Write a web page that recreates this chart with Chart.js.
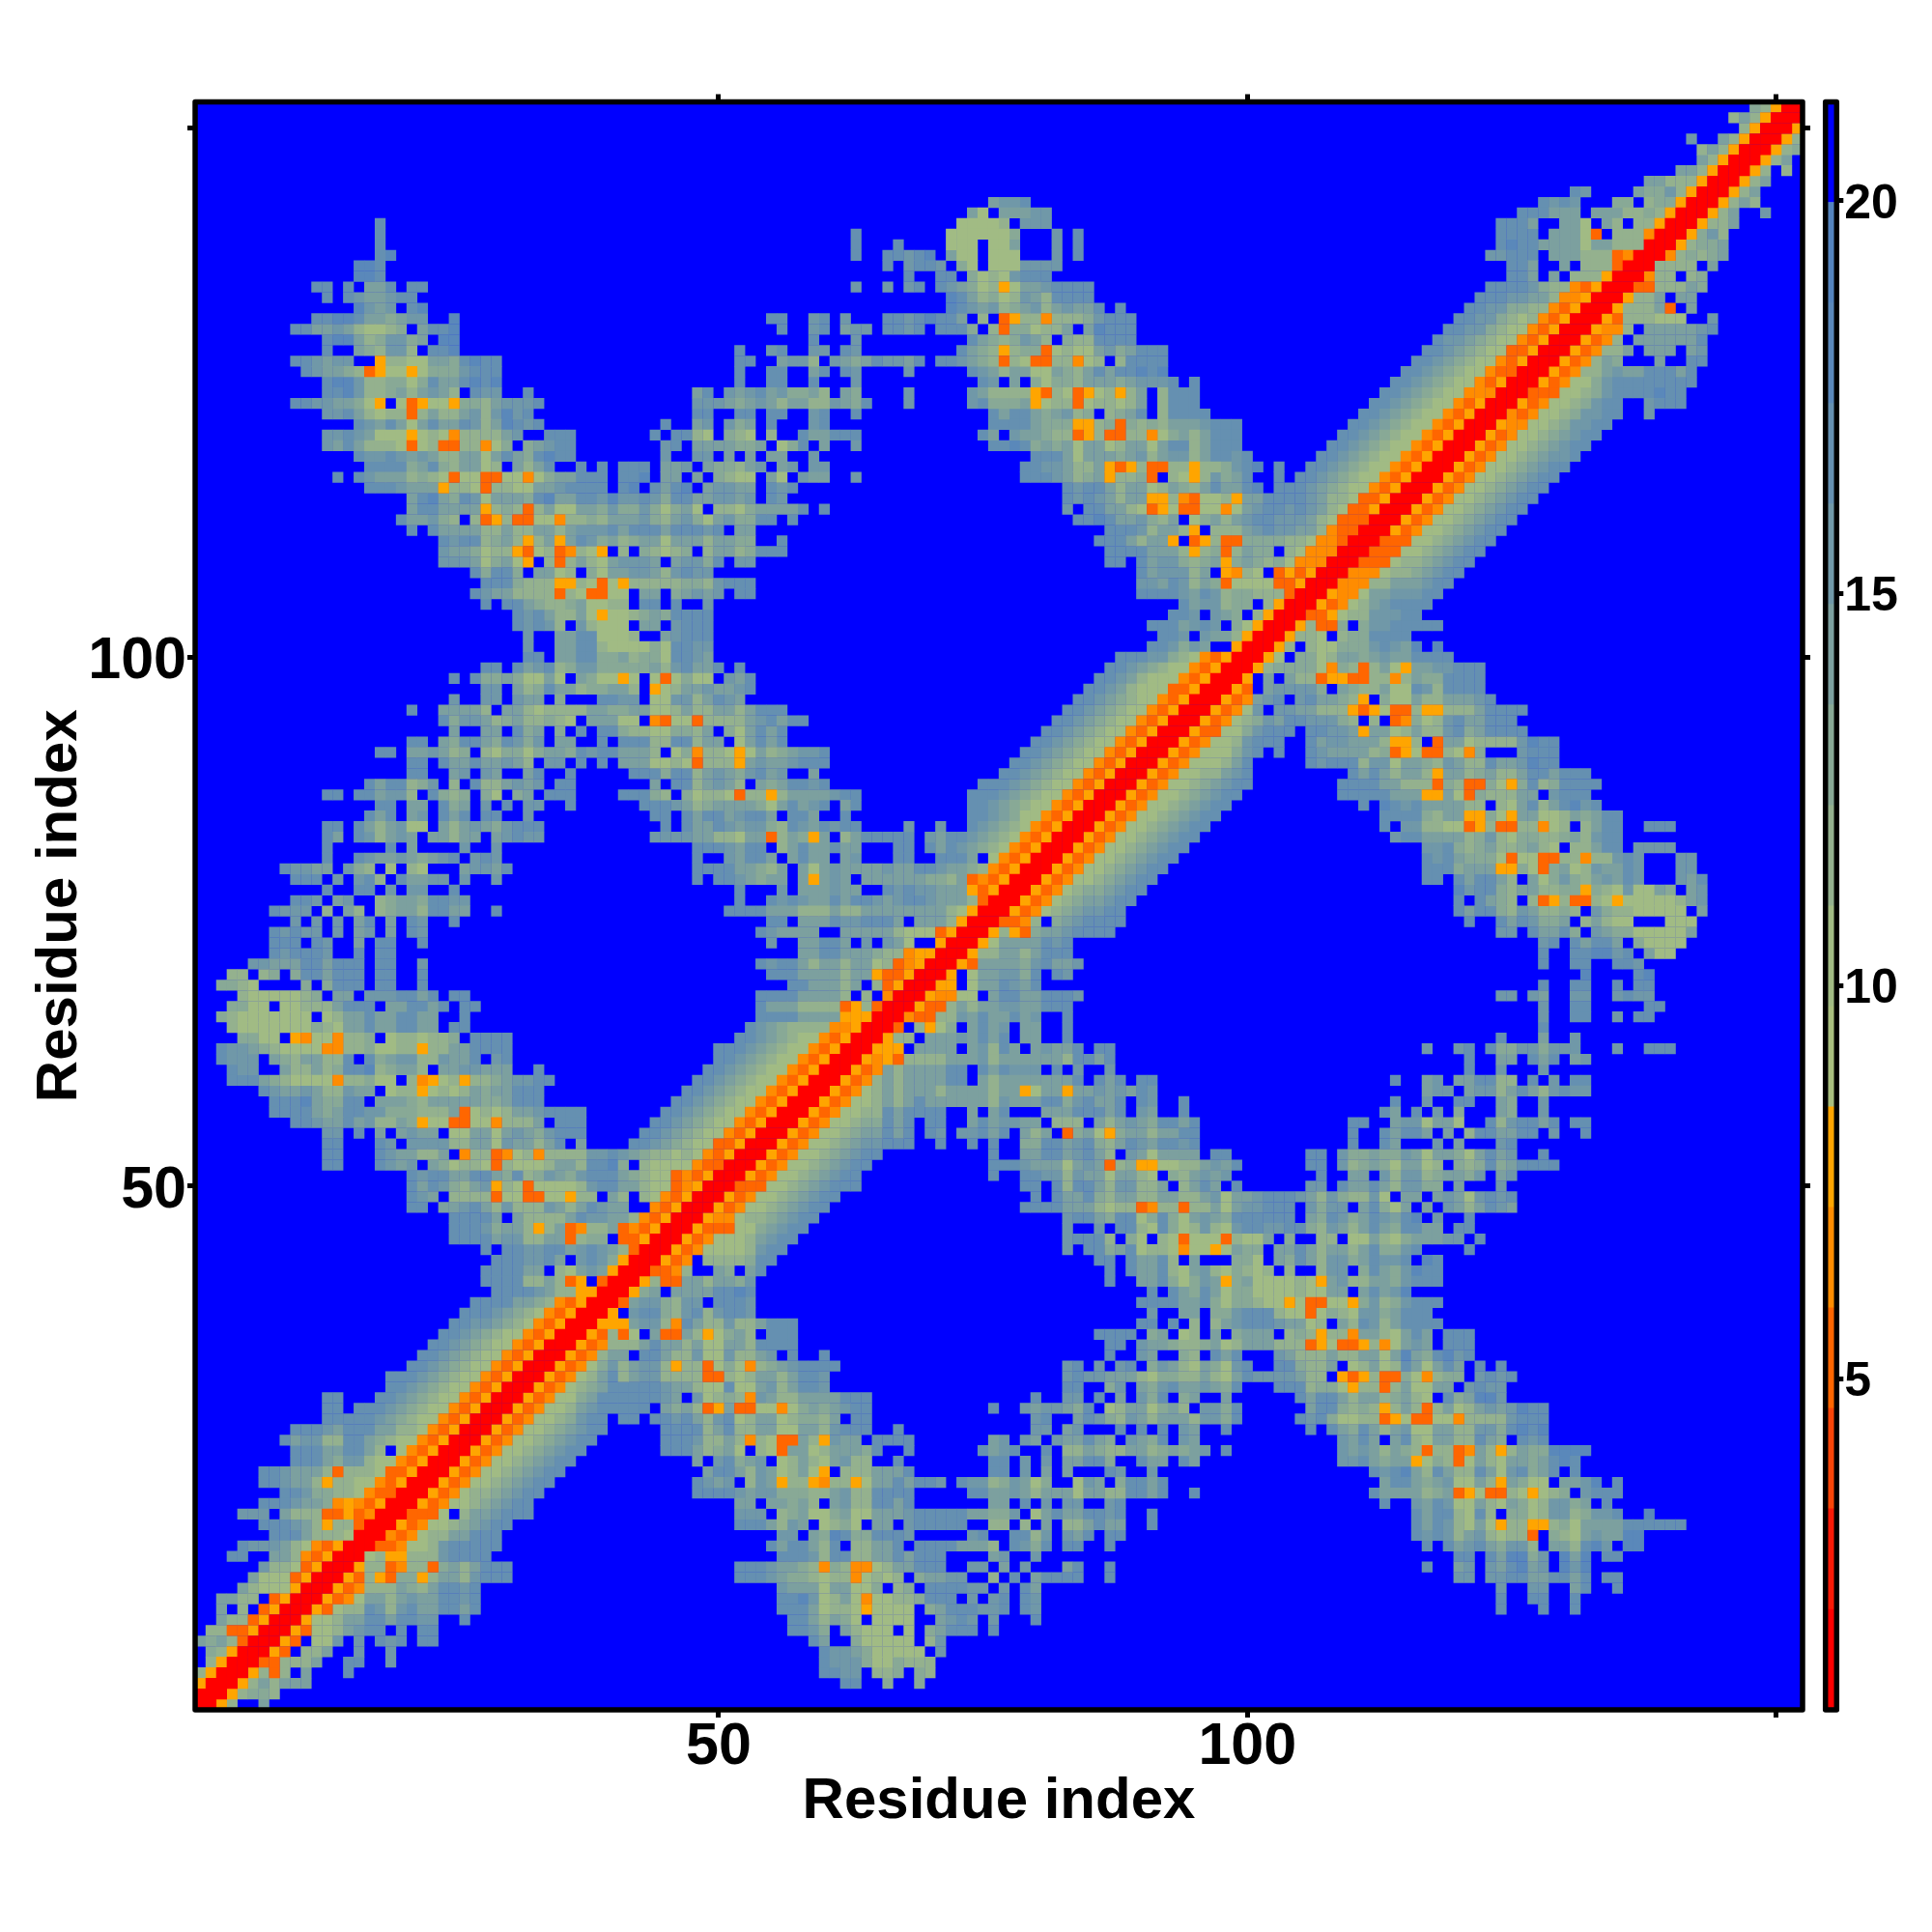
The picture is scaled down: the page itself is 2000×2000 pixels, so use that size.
<!DOCTYPE html>
<html>
<head>
<meta charset="utf-8">
<title>Residue distance map</title>
<script src="https://cdn.jsdelivr.net/npm/chart.js@4"></script>
<style>
  html, body { margin: 0; padding: 0; background: #fff; }
  canvas { position: absolute; top: 0; }
  #map { left: 0; }
  #bar { left: 1868px; }
</style>
</head>
<body>
<canvas id="map" width="2000" height="2000"></canvas>
<canvas id="bar" width="132" height="2000"></canvas>
<script>
const residueCount = 152;
const xTickValues = [50, 100, 150];
const xTickLabels = ['50', '100', ''];
const yTickValues = [50, 100, 150];
const yTickLabels = ['50', '100', ''];
const barTickValues = [5, 10, 15, 20];
const axisTitle = 'Residue index';

// colour key, one entry per level, red = close, blue = far
const levelBreaks = [0.78, 2.06, 3.34, 4.62, 5.9, 7.18, 8.46, 9.74, 11.02, 12.3, 13.58, 14.86, 16.14, 17.42, 18.7, 19.98, 21.26];
const levelColors = ['#FF0000', '#F91A06', '#F94508', '#FF6600', '#FF8C00', '#FFA500',
  '#A8BE7E', '#A1BB84', '#94B18E', '#88A996', '#7CA09F', '#7098A8', '#6590B1', '#5A88BA', '#5484BE', '#0000FF'];

// the map is symmetric: only the part above the diagonal is kept
// "row|col:levels col:levels", one hex digit per cell, "." = far (blue)
const rowSpans = [
"152|148:98500",
"151|146:8a8500",
"150|147:8500",
"149|142:b 145:a8500",
"148|143:8a8500",
"147|143:a8500",
"146|141:aa8500",
"145|138:aa888500",
"144|131:cb 137:a99b8500",
"143|76:abbc 128:cbcb 135:99 138:899500",
"142|74:a7 77:aaabb 126:cccaaa 133:aaa8898500",
"141|18:c 73:77778 79:bbb 124:ccca 130:aa7 134:a8 137:88500",
"140|18:c 63:c 72:7777779 82:b 84:c 124:cccc 129:aaa73.888400",
"139|18:c 63:c 67:c 72:777 76:77a 82:b 84:c 124:cdccaaaa7aa88800",
"138|18:cd 63:c 66:ccbcd 72:a77 76:777 82:b 84:c 123:bbccc.aaa8883400",
"137|16:ddc 66:c 68:bccb 73:97 76:777bbb 82:b 125:cca..a.888300",
"136|16:ddc 68:c 71:cc 74:9787bccc 125:cca.a.888500",
"135|12:cc 15:c 17:aac 21:cc 63:b 66:b 68:bc 71:cba97857aabcccc 123:ccccb98843500",
"134|13:c 15:cbaabcc 72:dca8978ba8cccc 122:cccbbaa844500",
"133|16:dbab 21:cd 72:dcbab89ab8abaac 88:c 121:ccbb998843500",
"132|12:ccddcaa9abb 25:d 55:cc 59:bc 62:b 66:ccbcdcca.8.358848889bccc 120:ccbb987843500",
"131|10:ccaaba87789.accd 56:c 59:bc 62:abb 66:ccbc 71:ccc9 76:8399788a.adccc 119:ccbb987743500",
"130|13:cdda89bb9a.dd 59:c 63:b 74:ca989ba8.988cccc 118:cbba987743500",
"129|13:c 16:a98bb8.ccd 52:c 55:bc 59:bb 62:cb 73:ca98589937877ab9accc 117:ccba987733500",
"128|10:ccbabb..58877aa9cdcc 52:cc 56:abb8.ba9acbbac 71:ccba983873388478.8cccc 116:ccba987743500",
"127|11:cbaa98357757999bccc 52:c 55:cc 59:ac 62:cb 68:b 74:cba8aa77a98acaccdcd 115:ccba987743300",
"126|13:cddb889979caacdcd 52:c 55:cc 59:c 63:b 75:cb.a.97998aaa9abbbc 95:c 114:ccba987743500",
"125|13:ccdb889a8aba8.cbb 32:c 48:ac.babcab99a8.a9 68:b 74:ba88885387357858a.8cc 95:c 113:ccba987744400",
"124|10:ccbbaa975.735775998abbbc 48:bbba9aba8aa88ba9c 68:b 74:bc999a5788378878a.8cc 95:c 112:ccba987743500",
"123|13:bbca878838a88ab8bdbc 48:cc 52:cc 55:cc 59:bc 63:c 76:cacca9ab89.89ac.8cc 95:cc 111:ccba987743500",
"122|16:cbaca7acaacb8adcbc 45:c 48:ab.b9a 55:c 59:bc 76:cccca999558939898aa 95:abccc 110:ccba987743500",
"121|13:bbcba777578748888ab 34:ccc 44:c 46:cc 48:87.987.8 58:caaccc 75:ca.baa9883583388479a 95:8accc 109:ccba987743500",
"120|13:baca88873783388479.9abcc 45:bc 48:aaaa99a.79c.a 63:b 76:ccdc9a9a7aa78aa7acc 95:8accc 108:ccba987743500",
"119|16:cbbcbaba88aa7aca9cdcc 45:b 48:bb.a.a.aa 59:b 80:ccca7aaa9ab8abb 95:8accbc 107:ccba987743500",
"118|17:cccc9ac98aa78.a8ac 37:c 39:c 41:ccc 45:aab 49:a998ab.ab.bb 79:ccbba88a53583388 95:5889bcd 103:c 106:ccba987743500",
"117|14:c 16:cbaaa89873773377479aaccc 41:ccd 45:aa 48:a.9877.a7.baa 63:b 79:cccba89a58893.87 95:58b9ac 103:c 105:ccba987743500",
"116|17:cccbaaa588738877aabcccc 41:cd 44:cacd 49:abbaa.cbc 83:cbcca8aa78a9 95:8acaacd.cccba987743500",
"115|21:acda9cb7aaa9cdaaccbdbbcb9cc 48:aabbab.cb 83:cbcba8aa5584 95:37785aaccccba88733500",
"114|21:accaaaa589838a77aa9b99b979a 48:7.8879aaaac 60:c 83:b.ccaa873573 95:37747abccbcba8733500",
"113|20:caab98.8358337748898aaab98ab 48:97ab99cc.c 84:ccdcaab98a. 95:79a8abccbbba8733300",
"112|21:c.caaaa88a88aa8abbbcacccacc 48:cbc.aa 87:cccb8aa8 95:5.888abcbbaa843300",
"111|24:cbcc89a858a5acb9a89aa7aa 48:a8aa99 56:c 86:ccca8aa5 95:35833999988744300",
"110|24:baa9788537834875.8.98789 49:8aa89ccc 87:ccccaaa8 95:58938a99.8744400",
"109|24:bbba79a75.838a87abbba.ab 48:b9c.bb 87:cc.cabb9 95:89a59a989744400",
"108|27:c9cc9.aa78.97aabba8bc 48:bb 90:cabbb 95:8a.5487.353500",
"107|28:ccc98885587375888889 48:98bccc 90:bbacb 95:8a93777733500",
"106|27:cbaa88883873377.aa.9a 48:bab.cc 90:ccccb 95:acb899888300",
"105|28:c.cca9889a7788.cc.c 49:b 94:c 95:abb899.8500",
"104|31:cbca88a757789a9cc 48:cc 93:cc 95:b.ba9.8500",
"103|31:cbcb8.b8777.aa.bc 48:cc 91:ccca 95:bcb.97500",
"102|32:b..aacc7778..abc 48:cc 92:ccb 96:baa8500",
"101|32:b..aacc8777797cc 48:bb 91:ccb9 95:ba..500",
"100|32:cc.aacc99a8997cc 48:ba 88:cccbb98 95:743500",
"99|28:cc.cabc89bb99999a8bc 48:aac 52:c 87:ccba9877 95:43500",
"98|25:c.c99a977a7.a97757.7379 48:77.bac 86:ccba87774 95:3500",
"97|28:bb.a89caa899aa8.578a 48:abaabc 85:ccba877733 95:500",
"96|25:b 28:bb 31:baa 35:9 39:ccbb 44:77bb 48:8acba 84:ccba987743500",
"95|21:c 24:aaaa8.aa878888aa99aa778a 48:88aa8accc 83:ccba987743500",
"94|24:c9bba89a88987.aaa77.4377 48:38888abcacc 82:ccba987743500",
"93|25:a..aa.c9a.9.c.cc9887799 48:8a.97acac 81:ccba987743500",
"92|21:cc.a9cca9cb9b.aa..c.ccc88cc 48:8aa.7acac 80:ccba987743500",
"91|18:cc 21:aaba89.879979aa9cbccaaa8.79 48:488757a89abbc 79:ccba987743500",
"90|21:cc.caacaaba8.bb.c.c.aaa7787 48:38885abaabccc 78:ccba987743500",
"89|21:cc..ab.ba..ac..c 42:ccc9cc 48:8aba9bcab..a 77:ccba987743500",
"88|17:cacc89b.8.c88abab.cc 44:a 46:cc 48:8aba8.a9accbc 75:cccba987743500",
"87|13:cc 16:ccabb8.c989.97.9a.ccc 41:ccc98.9 48:788738858aaaabcc 74:cccba987743500",
"86|18:cc.aa.c9a.b.c.bb 36:c 43:cccba 48:89aaaa97acabc.ac 74:ccba987743500",
"85|17:cac.ab.cac.cc..b 44:cc.c 48:accabcca.cca..c 74:ccba97743500",
"84|13:cc 16:ca8ab77.a8aba9bccc 45:c 47:c 48:aacbabb98cbacbcc 68:b 71:b 74:cba98743500",
"83|13:ca 16:cb8aba.aa8aa.abcbb 44:bbbb 48:aa887aa38a95a.8accccc.baccba98743500",
"82|13:c 19:c.a 26:b 29:b 48:cccbacc.8acaacaa...cc.cacba98743500",
"81|13:c 16:cbaaba9abc.b 28:cb 48:c..bacca.acaa.ab...cc..ccca.743500",
"80|9:cbbaa.b98.7.87...abbac 48:ccccaa98a.a7abaaaabaaccbaa9843500",
"79|10:ccc.b.bc8.caabb.b 29:b 48:c.ccba9aa.a5aba.aaaaaa998a343500",
"78|13:c..cc.b.bb..c 52:c 56:b.aaabaa..cbcbbaaa53500",
"77|10:ccb.ab..89aa9ccbb 52:c 55:cbcbaacaccbabccbaaa8300",
"76|8:cbbb.8.a8.89aa8ccaa 29:c 51:ccccaaa888a88aaaaaaaa87500",
"75|10:b.b.b.ac.a.cb 25:c 55:cc.aaacbbccca.aaa8500",
"74|8:cbcbb.b.ab.a.cb 54:cbaaaa..aaaaa87773500",
"73|8:ccc.cb..a.cc 22:c 55:b..aacca.b.ba7..500",
"72|8:cbcccb..c.cc 58:aaccaaa98845500",
"71|6:bbaaaccaccc.cc 22:b 54:cbcca8aa8aa7834500",
"70|4:88.89.9ccaccc.cc 22:c 55:cccaaaa8aa533500",
"69|3:9987....9.9ccc.cc 22:c 57:ccaaa8a.83500",
"68|5:87777789.aa.bbbccac.cc 54:ccccaaaa8.8.400",
"67|4:9977.77888accc.aaccac.cc 54:caaa8888358300",
"66|3:987777777.78aacaaccaa 26:c 54:ccccaaaa55500",
"65|4:87777777987aacaaccaa.cc 53:cba9888844500",
"64|5:9977.54774889.7887889.cccc 52:ccba987743500",
"63|3:cbba987777448897788588aacccc 50:cccba987743500",
"62|3:cbbb.a98aa88c.c9abb88baac.bc 50:ccba987743500",
"61|4:cbb..a88a89ccd89aa8.aabbaaa 33:c 49:ccba987743500",
"60|4:ccca987777488977.845785889abbcc 48:ccba987743500",
"59|7:cbaaba88baa.78857878a9aaccc 47:ccba987743500",
"58|8:cccda99cc.aaa98aaaaa99accc 46:ccba987743500",
"57|8:cccca9accbb999888a37878aabcccc 45:ccba987743500",
"56|10:ccbaacab88a957733774888a.ccc 44:ccba987743500",
"55|13:bb.c.a.abaa.77aa7aba9bccc 43:ccba987743500",
"54|13:cc 18:cb.bbbb88aa7baa8ac.a 42:ccba987733500",
"53|13:cc 18:cbaa88a.488347848888bbcba98878 48:743500",
"52|13:cc 18:cbab.a97887387778aa8ccd9.87777 48:43300",
"51|21:cbccaacca9c89ba9bccca987734 48:3500",
"50|21:cacb98ab587377778bccaa87734 48:500",
"49|21:cba.88883773377588.a8.8743500",
"48|21:cc.aabca8b888ba8acbaa..43500",
"47|25:cccca.a8888acbbaa843500",
"46|25:cccb9aa858a3488a343500",
"45|25:ccccabb88aa3899.33500",
"44|28:c.ccbbccabcba8300",
"43|29:cccbbca.bcb9500",
"42|28:ccccaa.87aba500",
"41|28:cccc88a835.300",
"40|29:ccccba885500",
"39|27:ccccaa9843500",
"38|26:cccba98743500",
"37|25:ccbba98743500",
"36|24:ccba987743500",
"35|23:ccba987743500",
"34|22:ccba987743500",
"33|21:ccba987743500",
"32|19:cccba987743500",
"31|19:ccba987743500",
"30|13:cc 18:ccba987743500",
"29|13:cc 16:cccba987743500",
"28|13:cccccba987743500",
"27|10:cccbacccaa88743500",
"26|9:cabb88cca987743500",
"25|10:cccaacca8.743500",
"24|10:ccca9bb87743500",
"23|7:ccbaaa83888733500",
"22|7:ccbaa85887743500",
"21|9:ccb9988743300",
"20|7:cccbaa94543500",
"19|5:bbb.a8883353400",
"18|7:cccba8588300",
"17|8:ccca888700",
"16|5:cbbba8743500",
"15|4:cc..aa843500",
"14|7:b8873500",
"13|6:a7773500",
"12|5:a8777500",
"11|3:aa88.3500",
"10|3:a.8.3500",
"9|3:a883500",
"8|2:8833500",
"7|1:a9a8300",
"6|2:98500",
"5|2:8500",
"4|1:8500",
"3|1:500",
"2|1:00",
"1|1:0"
];

const fontFamily = '"Liberation Sans", Arial, sans-serif';

// one dataset per colour level
var cellsByLevel = levelColors.map(function () { return []; });
rowSpans.forEach(function (line) {
  var parts = line.split('|');
  var row = parseInt(parts[0]);
  parts[1].split(' ').forEach(function (span) {
    var bits = span.split(':');
    var col = parseInt(bits[0]);
    for (var i = 0; i < bits[1].length; i++) {
      if (bits[1][i] === '.') continue;
      var level = parseInt(bits[1][i], 16);
      cellsByLevel[level].push({ x: col + i, y: row });
      if (col + i !== row) cellsByLevel[level].push({ x: row, y: col + i });
    }
  });
});

// far cells are simply the plot background
const plotBackground = {
  id: 'plotBackground',
  beforeDatasetsDraw: function (chart) {
    var a = chart.chartArea;
    chart.ctx.save();
    chart.ctx.fillStyle = levelColors[levelColors.length - 1];
    chart.ctx.fillRect(a.left, a.top, a.width, a.height);
    chart.ctx.restore();
  }
};

const frame = {
  id: 'frame',
  afterDraw: function (chart) {
    var a = chart.chartArea;
    chart.ctx.save();
    chart.ctx.strokeStyle = '#000';
    chart.ctx.lineWidth = 5.5;
    chart.ctx.lineJoin = 'round';
    chart.ctx.strokeRect(a.left, a.top, a.width, a.height);
    chart.ctx.restore();
  }
};

function fixedSize(prop, size) {
  return function (scale) { scale[prop] = size; };
}

function setTicks(values) {
  return function (scale) {
    scale.ticks = values.map(function (v) { return { value: v }; });
  };
}

function tickGrid() {
  return { drawOnChartArea: false, drawTicks: true, tickLength: 8, tickWidth: 5, tickColor: '#000' };
}

function residueAxis(position, values, labels, size, sizeProp, title, tickPadding, labelOffset) {
  var axis = {
    type: 'linear',
    position: position,
    min: 0.5,
    max: residueCount + 0.5,
    border: { display: false },
    grid: tickGrid(),
    afterBuildTicks: setTicks(values),
    afterFit: fixedSize(sizeProp, size),
    ticks: {
      display: labels !== null,
      autoSkip: false,
      maxRotation: 0,
      minRotation: 0,
      padding: tickPadding || 0,
      labelOffset: labelOffset || 0,
      color: '#000',
      font: { family: fontFamily, size: 61, weight: 'bold' },
      callback: function (v) {
        if (labels === null) return '';
        return labels[values.indexOf(v)];
      }
    }
  };
  if (title) {
    axis.title = {
      display: true,
      text: axisTitle,
      color: '#000',
      font: { family: fontFamily, size: 60, weight: 'bold' },
      padding: title
    };
  }
  return axis;
}

new Chart(document.getElementById('map'), {
  type: 'scatter',
  data: {
    datasets: cellsByLevel.map(function (cells, i) {
      return {
        data: cells,
        xAxisID: 'x',
        yAxisID: 'y',
        backgroundColor: levelColors[i],
        borderWidth: 0,
        pointStyle: 'rect',
        pointRadius: function (ctx) {
          return (ctx.chart.scales.x.width / residueCount + 0.3) / Math.SQRT2;
        }
      };
    })
  },
  options: {
    responsive: false,
    animation: false,
    events: [],
    layout: { padding: 0 },
    plugins: { legend: { display: false }, tooltip: { enabled: false }, title: { display: false } },
    scales: {
      x: residueAxis('bottom', xTickValues, xTickLabels, 230, 'height', { top: 0, bottom: 98.5 }, -5, 0),
      x2: residueAxis('top', xTickValues, null, 105.5, 'height'),
      y: residueAxis('left', yTickValues, yTickLabels, 202, 'width', { top: 26, bottom: 0 }, 1, 5),
      y2: residueAxis('right', yTickValues, null, 134, 'width')
    }
  },
  plugins: [plotBackground, frame]
});

// colour key on its own small canvas
new Chart(document.getElementById('bar'), {
  type: 'bar',
  data: {
    labels: [''],
    datasets: levelColors.map(function (color, i) {
      return {
        data: [[levelBreaks[i], levelBreaks[i + 1]]],
        backgroundColor: color,
        borderWidth: 0,
        barPercentage: 1,
        categoryPercentage: 1,
        grouped: false
      };
    })
  },
  options: {
    responsive: false,
    animation: false,
    events: [],
    layout: { padding: { left: 21.7, top: 105.5, bottom: 230, right: 0 } },
    plugins: { legend: { display: false }, tooltip: { enabled: false }, title: { display: false } },
    scales: {
      x: { display: false },
      y: {
        position: 'right',
        min: levelBreaks[0],
        max: levelBreaks[levelBreaks.length - 1],
        border: { display: false },
        grid: { drawOnChartArea: false, drawTicks: true, tickLength: 7, tickWidth: 5, tickColor: '#000' },
        afterBuildTicks: setTicks(barTickValues),
        afterFit: fixedSize('width', 98.7),
        ticks: {
          autoSkip: false,
          padding: 1,
          labelOffset: 4,
          color: '#000',
          font: { family: fontFamily, size: 50, weight: 'bold' },
          callback: function (v) { return String(v); }
        }
      }
    }
  },
  plugins: [frame]
});
</script>
</body>
</html>
